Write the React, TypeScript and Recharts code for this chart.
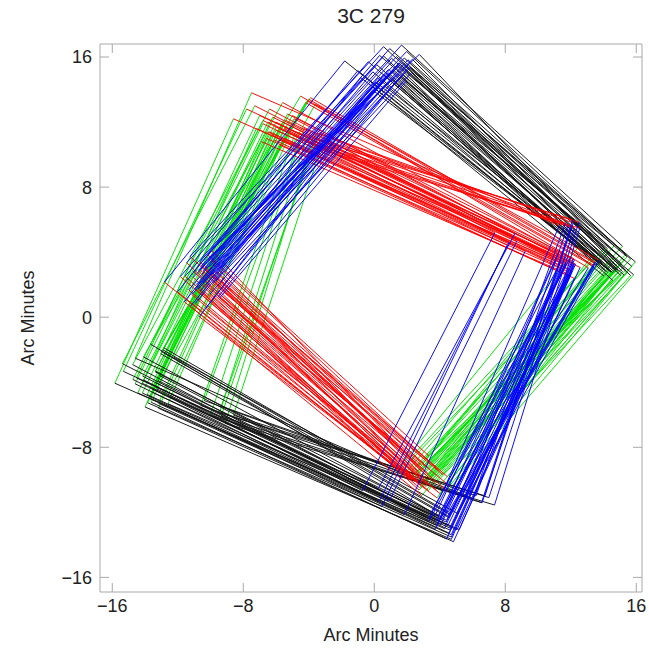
import React from 'react';
import { ComposedChart, Line, XAxis, YAxis } from 'recharts';

// footprint outlines, one side per colour: top red, right blue, bottom black, left green.
// first season: [top-left corner x, y (arcmin), roll of the top side (deg), top side length]
const SET_A: number[][] = [
  [-6.0, 11.5, -25, 20], [-6.3, 11.2, -24.5, 20.2], [-5.7, 11.8, -25.5, 19.8], [-6.6, 11.0, -24, 20.3],
  [-5.4, 12.1, -26, 19.6], [-6.9, 10.8, -23.5, 20.4], [-5.1, 11.3, -25, 19.5], [-6.2, 12.3, -26.5, 20],
  [-7.2, 11.6, -24, 20.5], [-5.8, 10.6, -24.5, 19.8], [-6.5, 12.0, -25.5, 20.2], [-7.0, 12.4, -25, 20.6],
  [-5.5, 11.0, -23.5, 19.4], [-6.8, 11.9, -26, 20.4], [-6.1, 10.9, -25, 19.9], [-5.3, 12.5, -27, 19.6],
  [-6.0, 11.7, -25.2, 20.1], [-6.4, 11.4, -24.8, 20.3], [-5.6, 12.0, -25.8, 19.7],
  [-7.5, 13.8, -23.5, 20.5], [-7.8, 12.8, -25, 21], [-8.6, 12.2, -24, 21.5],
  [-4.1, 11.1, -17.5, 17], [-3.7, 10.8, -18.5, 16.8], [-4.5, 10.9, -18, 17.4], [-3.4, 11.3, -19.5, 16.5],
  [-4.8, 11.4, -19, 17.6], [-3.9, 10.5, -17, 17.2], [-4.3, 11.6, -20, 17], [-3.1, 10.9, -18, 16.4],
  [-4.0, 13.4, -30, 20.2], [-4.1, 13.3, -30, 20.2], [-3.9, 13.5, -30.2, 20.1], [-4.2, 13.2, -29.8, 20.3],
  [-3.6, 13.1, -29, 19.8], [-4.5, 13.6, -31, 20.5],
  [-6.4, 12.8, -28, 20.5], [-5.6, 13.2, -28.5, 20], [-7.3, 13.0, -27, 21], [-4.9, 12.2, -27.5, 19.3],
  [-6.0, 12.0, -27, 15], [-5.5, 11.6, -26, 15.8], [-6.5, 11.4, -25.5, 16.2], [-5.0, 12.4, -28, 15.4],
  [-6.8, 12.1, -26.5, 16.8], [-5.8, 10.9, -24.5, 16.5],
];
const SIDE_A = 17.8; // left side length, first season

// second season, turned ~180°: [centre x, centre y (arcmin), roll of the top side (deg)]
const SET_B: number[][] = [
  [1.8, 2.4, 138], [2.0, 2.2, 139], [1.6, 2.6, 137], [2.2, 2.6, 138.5],
  [1.5, 2.1, 139.5], [2.4, 2.3, 137.5], [1.9, 2.8, 136], [1.3, 2.5, 140],
  [2.6, 2.0, 139], [1.7, 1.9, 141], [2.1, 3.0, 135.5], [1.1, 2.9, 138],
  [2.8, 2.7, 136.5], [1.4, 1.6, 140.5], [2.3, 1.7, 141.5], [1.0, 2.2, 142],
  [2.5, 3.2, 134.5], [0.8, 3.1, 139], [3.0, 2.4, 137], [1.9, 1.4, 142.5],
  [0.6, 2.6, 141], [2.7, 3.5, 133.5], [1.2, 3.4, 136.5], [-0.2, 3.2, 141],
  [3.2, 1.9, 139.5], [2.0, 3.3, 138],
  [2.3, 3.4, 138], [2.7, 3.7, 137], [2.0, 3.9, 138.5], [3.0, 3.2, 138],
  [2.5, 4.1, 137.5], [3.3, 2.8, 139], [1.6, 3.5, 139.5], [2.8, 2.9, 140],
  [1.4, 4.0, 137.5], [2.2, 2.9, 136.5], [3.1, 2.2, 140.5], [1.9, 2.0, 137.5],
  [2.1, 2.5, 138.2], [2.4, 3.0, 137.8], [1.7, 2.3, 138.8], [2.6, 3.3, 137.2],
];
const SIZE_B = [18.3, 17.5]; // [top side, left side]

const TICKS = [-16, -8, 0, 8, 16];
const TICK_LABELS = ['\u221216', '\u22128', '0', '8', '16'];
const X_DOMAIN = [-16.75, 16.35];
const Y_DOMAIN = [-16.9, 16.8];

const FRAME = '#a8a8a8';
const FONT = '"Liberation Sans", Arial, sans-serif';

type Pt = { x: number; y: number | null };
const red: Pt[] = [];
const blue: Pt[] = [];
const black: Pt[] = [];
const green: Pt[] = [];

const side = (arr: Pt[], p: Pt, q: Pt) => {
  arr.push(p, q, { x: q.x, y: null });
};

// outline from its top-left corner, roll and side lengths
const addRect = (x0: number, y0: number, ang: number, w: number, h: number) => {
  const t = (ang * Math.PI) / 180;
  const ux = Math.cos(t), uy = Math.sin(t);
  const vx = Math.sin(t), vy = -Math.cos(t);
  const tl = { x: x0, y: y0 };
  const tr = { x: x0 + w * ux, y: y0 + w * uy };
  const br = { x: tr.x + h * vx, y: tr.y + h * vy };
  const bl = { x: x0 + h * vx, y: y0 + h * vy };
  side(red, tl, tr);
  side(blue, tr, br);
  side(black, br, bl);
  side(green, bl, tl);
};

SET_A.forEach(([x, y, ang, w]) => addRect(x, y, ang, w, SIDE_A));
SET_B.forEach(([cx, cy, ang]) => {
  const [w, h] = SIZE_B;
  const t = (ang * Math.PI) / 180;
  const x0 = cx - (w / 2) * Math.cos(t) - (h / 2) * Math.sin(t);
  const y0 = cy - (w / 2) * Math.sin(t) + (h / 2) * Math.cos(t);
  addRect(x0, y0, ang, w, h);
});

const label = (v: number) => TICK_LABELS[TICKS.indexOf(v)] ?? String(v);

const BottomTick = (p: any) => (
  <g>
    <line x1={p.x} y1={p.y} x2={p.x} y2={p.y - 9} stroke={FRAME} />
    <text x={p.x} y={p.y + 20} textAnchor="middle" fontSize={18} fontFamily={FONT} fill="#222">
      {label(p.payload.value)}
    </text>
  </g>
);
const TopTick = (p: any) => <line x1={p.x} y1={p.y} x2={p.x} y2={p.y + 9} stroke={FRAME} />;
const LeftTick = (p: any) => (
  <g>
    <line x1={p.x} y1={p.y} x2={p.x + 9} y2={p.y} stroke={FRAME} />
    <text x={p.x - 8} y={p.y} dy="0.36em" textAnchor="end" fontSize={18} fontFamily={FONT} fill="#222">
      {label(p.payload.value)}
    </text>
  </g>
);
const RightTick = (p: any) => <line x1={p.x} y1={p.y} x2={p.x - 9} y2={p.y} stroke={FRAME} />;

const series: [Pt[], string][] = [
  [green, '#00e000'],
  [black, '#111111'],
  [red, '#ff0000'],
  [blue, '#0000ff'],
];

export default function App() {
  return (
    <div style={{ position: 'absolute', left: 0, top: 0, width: 649, height: 654, background: '#fff', fontFamily: FONT }}>
      <ComposedChart width={649} height={654} margin={{ top: 42, right: 5, bottom: 32, left: 60 }}>
        <XAxis type="number" dataKey="x" domain={X_DOMAIN} allowDataOverflow ticks={TICKS} height={30}
          tickSize={0} tickMargin={0} tickLine={false} axisLine={{ stroke: FRAME }} tick={BottomTick} interval={0} />
        <XAxis xAxisId="top" orientation="top" type="number" dataKey="x" domain={X_DOMAIN} allowDataOverflow ticks={TICKS}
          height={2} tickSize={0} tickMargin={0} tickLine={false} axisLine={{ stroke: FRAME }} tick={TopTick} interval={0} />
        <YAxis type="number" domain={Y_DOMAIN} allowDataOverflow ticks={TICKS} width={40}
          tickSize={0} tickMargin={0} tickLine={false} axisLine={{ stroke: FRAME }} tick={LeftTick} interval={0} />
        <YAxis yAxisId="right" orientation="right" type="number" domain={Y_DOMAIN} allowDataOverflow ticks={TICKS}
          width={2} tickSize={0} tickMargin={0} tickLine={false} axisLine={{ stroke: FRAME }} tick={RightTick} interval={0} />
        {series.map(([data, color], i) => (
          <Line key={i} data={data} dataKey="y" stroke={color} strokeWidth={1} strokeOpacity={0.95}
            dot={false} activeDot={false} connectNulls={false} isAnimationActive={false} />
        ))}
      </ComposedChart>
      <div style={{ position: 'absolute', left: 100, width: 542, top: 4, textAlign: 'center', fontSize: 21, color: '#222' }}>
        3C 279
      </div>
      <div style={{ position: 'absolute', left: 100, width: 542, top: 625, textAlign: 'center', fontSize: 18, color: '#222' }}>
        Arc Minutes
      </div>
      <div style={{ position: 'absolute', left: 28, top: 318, transform: 'translate(-50%, -50%) rotate(-90deg)',
        whiteSpace: 'nowrap', fontSize: 18, color: '#222' }}>
        Arc Minutes
      </div>
    </div>
  );
}
